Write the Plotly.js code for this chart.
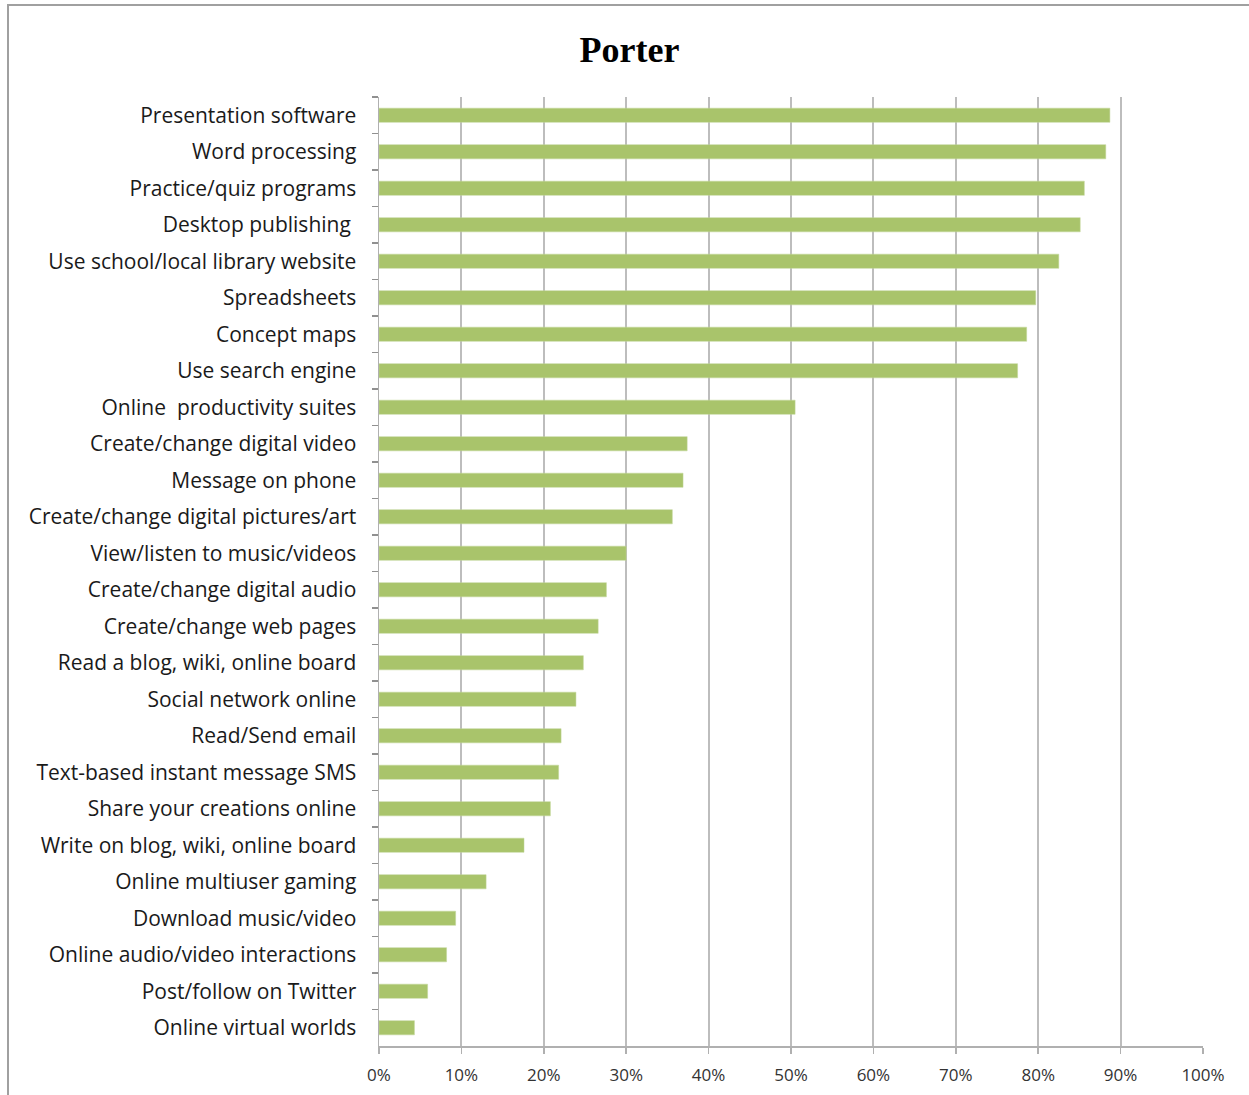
<!DOCTYPE html>
<html>
<head>
<meta charset="utf-8">
<script src="https://cdn.plot.ly/plotly-3.0.1.min.js"></script>
<style>
  html, body { margin: 0; padding: 0; background: #fff; }
  #frame { position: absolute; left: 0; top: 0; width: 1249px; height: 1095px; }
  #border { position: absolute; left: 7px; top: 4px; width: 1242px; height: 1091px;
            border-top: 2px solid #a0a0a0; border-left: 2px solid #a0a0a0; pointer-events: none; }
  #chart { position: absolute; left: 0; top: 0; width: 1249px; height: 1095px; }
</style>
</head>
<body>
<div id="frame">
  <div id="chart"></div>
  <div id="border"></div>
</div>
<script>
const categories = [
  "Presentation software",
  "Word processing",
  "Practice/quiz programs",
  "Desktop publishing\u00a0",
  "Use school/local library website",
  "Spreadsheets",
  "Concept maps",
  "Use search engine",
  "Online\u00a0 productivity suites",
  "Create/change digital video",
  "Message on phone",
  "Create/change digital pictures/art",
  "View/listen to music/videos",
  "Create/change digital audio",
  "Create/change web pages",
  "Read a blog, wiki, online board",
  "Social network online",
  "Read/Send email",
  "Text-based instant message SMS",
  "Share your creations online",
  "Write on blog, wiki, online board",
  "Online multiuser gaming",
  "Download music/video",
  "Online audio/video interactions",
  "Post/follow on Twitter",
  "Online virtual worlds"
];
const values = [
  0.887, 0.882, 0.856, 0.851, 0.825, 0.797, 0.786, 0.775, 0.505,
  0.374, 0.369, 0.356, 0.300, 0.276, 0.266, 0.248, 0.239, 0.221,
  0.218, 0.208, 0.176, 0.130, 0.093, 0.082, 0.059, 0.043
];
const xTickValues = [0, 0.1, 0.2, 0.3, 0.4, 0.5, 0.6, 0.7, 0.8, 0.9, 1.0];
const xTickLabels = ["0%", "10%", "20%", "30%", "40%", "50%", "60%", "70%", "80%", "90%", "100%"];
const chartTitle = "Porter";

const trace = {
  type: "bar",
  orientation: "h",
  x: values,
  y: categories,
  marker: { color: "#a9c46b", line: { color: "#c3d79a", width: 0.5 } },
  hoverinfo: "x+y"
};

const layout = {
  width: 1249,
  height: 1095,
  paper_bgcolor: "#ffffff",
  plot_bgcolor: "#ffffff",
  margin: { l: 379, r: 46, t: 97, b: 49 },
  bargap: 0.61,
  showlegend: false,
  title: {
    text: "<b>" + chartTitle + "</b>",
    font: { family: "Liberation Serif, Times New Roman, serif", size: 36, color: "#000" },
    x: 0.504, xanchor: "center",
    y: 0.955, yanchor: "middle", yref: "container"
  },
  xaxis: {
    range: [0, 1],
    tickvals: xTickValues,
    ticktext: xTickLabels,
    showgrid: true,
    gridcolor: "#bdbdbd",
    gridwidth: 2,
    zeroline: false,
    showline: true,
    linecolor: "#b0b0b0",
    linewidth: 1.5,
    ticks: "outside",
    ticklen: 6,
    tickwidth: 1.5,
    tickcolor: "#b0b0b0",
    ticklabelstandoff: 7,
    tickfont: { family: "Open Sans, sans-serif", size: 17, color: "#333" },
    fixedrange: true
  },
  yaxis: {
    type: "category",
    autorange: "reversed",
    tickson: "boundaries",
    showline: true,
    linecolor: "#b0b0b0",
    linewidth: 1.5,
    ticks: "outside",
    ticklen: 6,
    tickwidth: 1.5,
    tickcolor: "#909090",
    ticklabelstandoff: 17,
    showgrid: false,
    zeroline: false,
    tickfont: { family: "Open Sans, sans-serif", size: 21, color: "#1a1a1a" },
    fixedrange: true
  }
};

Plotly.newPlot("chart", [trace], layout, { displayModeBar: false, staticPlot: true });
</script>
</body>
</html>
